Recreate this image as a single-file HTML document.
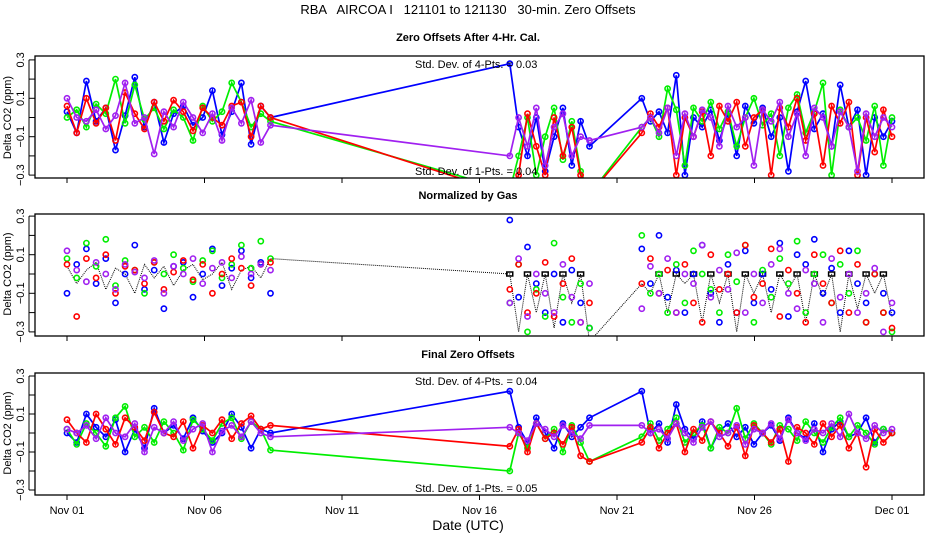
<!DOCTYPE html>
<html><head><meta charset="utf-8"><style>
html,body{margin:0;padding:0;background:#fff;}
svg{display:block;font-family:"Liberation Sans",sans-serif;}
</style></head><body>
<svg id="chart" width="936" height="540" viewBox="0 0 936 540">
<text x="468" y="14" font-size="13" text-anchor="middle" style="white-space:pre" xml:space="preserve">RBA   AIRCOA I   121101 to 121130   30-min. Zero Offsets</text>
<text x="468" y="530" font-size="14" text-anchor="middle">Date (UTC)</text>
</svg>
<script>
// ---- data ----
const segStartDay = [0.0, 16.1, 20.9];
const segEndDay = [7.4, 19.0, 30.0];
const xTickLabels = ["Nov 01","Nov 06","Nov 11","Nov 16","Nov 21","Nov 26","Dec 01"];
const xTickDays = [0,5,10,15,20,25,30];
const yTickValues = [0.3,0.2,0.1,0.0,-0.1,-0.2,-0.3];
const yTickLabels = ["0.3","0.1","-0.1","-0.3"];
const panelTitles = ["Zero Offsets After 4-Hr. Cal.","Normalized by Gas","Final Zero Offsets"];
const seriesNames = ["blue","green","red","purple"];

// Panel 1
const p1Blue = [0.03,-0.08,0.19,-0.02,0.05,-0.17,0.01,0.21,-0.05,0.08,-0.13,0.02,0.06,-0.04,0.0,0.14,-0.09,0.03,0.18,-0.14,0.06,0.0,
 0.28,-0.05,-0.2,0.0,-0.28,-0.1,0.05,-0.25,-0.02,-0.15,
 0.1,-0.02,0.03,-0.08,0.22,-0.3,0.0,-0.05,0.04,-0.12,0.02,-0.2,0.06,-0.03,0.05,-0.1,0.0,-0.28,0.03,0.19,-0.06,0.02,-0.15,0.17,-0.05,0.04,-0.3,0.0,-0.1,-0.02];
const p1Green = [0.0,0.04,-0.05,0.07,0.02,0.2,-0.03,0.17,-0.01,0.05,-0.06,0.04,0.0,-0.12,0.06,-0.02,0.03,0.18,0.08,-0.05,0.02,-0.02,
 -0.38,-0.2,0.0,-0.3,-0.1,0.05,-0.22,-0.02,-0.28,-0.4,
 -0.05,0.0,-0.1,0.15,0.04,-0.25,0.05,-0.02,0.08,-0.06,0.03,-0.15,0.0,0.1,-0.04,0.02,-0.2,0.05,0.12,-0.08,0.03,0.18,-0.3,0.04,-0.05,0.0,-0.12,0.06,-0.25,0.0];
const p1Red = [0.06,-0.08,0.1,-0.03,0.05,-0.12,0.13,0.02,-0.06,0.08,-0.02,0.09,0.03,-0.07,0.05,0.0,-0.04,0.06,0.08,-0.1,0.06,0.0,
 -0.4,-0.3,0.02,-0.15,-0.3,0.0,-0.2,-0.05,-0.3,-0.4,
 -0.08,0.02,-0.05,0.05,-0.3,0.0,-0.1,0.03,-0.2,0.06,-0.02,0.08,-0.15,0.0,0.04,-0.3,0.05,-0.05,0.1,-0.12,0.02,-0.25,0.06,-0.03,0.08,-0.3,0.0,-0.18,0.04,-0.1];
const p1Purple = [0.1,0.0,-0.02,0.04,-0.06,0.01,0.18,-0.03,0.0,-0.19,0.03,-0.05,0.08,0.0,-0.08,0.02,-0.12,0.05,-0.03,0.09,-0.13,-0.04,
 -0.2,0.0,-0.15,0.05,-0.25,-0.05,0.02,-0.2,-0.1,-0.12,
 -0.05,0.0,-0.08,0.05,-0.2,0.02,-0.1,0.04,0.0,-0.15,0.06,-0.05,0.0,-0.25,0.04,-0.02,0.08,-0.1,0.02,-0.2,0.05,0.0,-0.15,0.03,-0.05,-0.28,0.02,-0.1,0.0,-0.05];

// Panel 2
const p2Blue = [-0.1,0.05,0.13,-0.05,0.08,-0.15,0.0,0.15,-0.08,0.02,-0.18,0.04,0.06,-0.12,0.0,0.13,-0.06,0.03,0.12,-0.02,0.06,-0.1,
 0.28,-0.12,0.14,-0.05,-0.2,0.0,-0.25,0.02,-0.15,-0.28,
 0.13,-0.05,0.2,-0.12,0.02,-0.2,0.0,0.15,-0.1,-0.25,0.05,-0.2,0.12,-0.15,0.0,-0.08,0.16,-0.22,0.1,0.05,0.18,-0.1,0.03,-0.2,0.12,-0.05,-0.15,0.0,-0.1,-0.2];
const p2Green = [0.08,-0.02,0.16,0.04,0.18,-0.06,0.07,0.02,-0.1,0.06,0.0,0.1,0.03,-0.04,0.07,0.12,-0.02,0.05,0.15,0.03,0.17,0.08,
 -0.15,0.05,-0.3,-0.08,-0.22,0.16,-0.12,-0.25,-0.05,-0.28,
 0.2,-0.1,0.0,-0.2,0.05,-0.15,0.12,0.0,-0.08,-0.2,0.1,-0.04,0.15,-0.25,0.02,-0.12,0.08,-0.05,0.17,-0.2,0.0,0.1,-0.15,0.05,-0.1,0.12,-0.25,0.0,-0.2,-0.3];
const p2Red = [0.05,-0.22,0.08,-0.02,0.1,-0.1,0.04,0.02,-0.05,0.06,-0.08,0.01,0.07,-0.03,0.05,-0.1,0.0,0.08,0.03,-0.06,0.05,0.06,
 -0.08,0.05,-0.2,-0.1,0.06,-0.22,-0.05,0.08,-0.25,-0.15,
 -0.05,0.08,-0.1,0.02,-0.2,0.05,-0.15,-0.25,0.1,-0.08,0.0,-0.2,0.15,-0.12,-0.05,0.13,-0.22,0.02,-0.1,-0.25,0.1,-0.05,-0.15,0.12,-0.2,0.05,-0.25,0.0,-0.2,-0.28];
const p2Purple = [0.12,0.02,-0.04,0.06,0.0,-0.08,0.05,0.01,-0.02,0.07,-0.1,0.04,0.0,0.08,-0.05,0.03,0.06,-0.02,0.09,0.0,0.05,0.02,
 -0.15,0.08,-0.22,0.0,-0.1,-0.2,0.05,-0.12,-0.25,-0.05,
 -0.18,0.04,-0.1,0.08,-0.2,0.0,-0.05,0.15,-0.12,0.02,-0.08,0.11,-0.2,0.0,-0.15,0.05,0.13,-0.1,-0.18,0.02,-0.05,-0.25,0.08,-0.12,0.0,-0.2,-0.1,0.03,-0.3,-0.15];
const p2Black = [0.04,-0.05,0.02,0.06,-0.08,0.03,0.0,-0.1,0.05,-0.02,0.04,-0.06,0.02,0.05,-0.03,0.0,0.06,-0.08,0.02,0.04,-0.02,0.08,
 0.0,-0.3,0.0,-0.2,0.0,-0.28,0.0,-0.15,0.0,-0.35,
 -0.05,-0.1,0.0,-0.2,0.0,-0.05,0.0,-0.25,0.0,-0.15,0.0,-0.3,0.0,-0.1,0.0,-0.2,0.0,-0.08,0.0,-0.25,0.0,-0.12,0.0,-0.3,0.0,-0.18,0.0,-0.1,0.0,-0.22];

// Panel 3
const p3Blue = [0.0,-0.05,0.1,0.03,-0.02,0.07,-0.1,0.02,-0.08,0.13,0.0,0.04,-0.03,0.08,0.01,-0.05,0.0,0.1,0.03,-0.08,0.02,0.0,
 0.22,0.03,-0.05,0.08,0.0,-0.08,0.05,-0.02,0.03,0.08,
 0.22,0.0,0.05,-0.05,0.15,0.02,-0.03,0.06,-0.08,0.01,0.05,-0.02,0.03,-0.06,0.0,0.04,-0.04,0.08,0.0,-0.03,0.05,-0.1,0.02,0.06,-0.02,0.0,0.08,-0.05,0.02,0.0];
const p3Green = [0.02,-0.06,0.05,0.0,-0.07,0.08,0.14,-0.02,0.03,-0.05,0.06,0.0,-0.09,0.07,0.02,-0.04,0.05,0.08,-0.03,0.06,0.02,-0.09,
 -0.2,0.0,-0.08,0.05,-0.03,0.02,-0.1,0.04,-0.05,-0.15,
 -0.02,0.05,-0.04,0.02,0.08,-0.05,0.0,0.04,-0.08,0.03,0.0,0.13,-0.03,0.05,0.0,-0.06,0.04,0.02,-0.04,0.06,0.0,-0.05,0.03,0.08,-0.02,0.04,0.0,-0.06,0.02,0.0];
const p3Red = [0.07,0.0,-0.05,0.1,0.02,-0.06,0.08,0.03,-0.04,0.11,0.0,-0.02,0.06,-0.08,0.04,0.0,0.07,-0.03,0.05,0.09,0.02,0.04,
 -0.07,0.02,-0.1,0.05,-0.03,0.0,-0.06,0.03,-0.12,-0.15,
 -0.05,0.03,-0.08,0.0,0.05,-0.1,0.02,-0.04,0.06,0.0,-0.07,0.03,-0.12,0.04,0.0,-0.05,0.02,-0.15,0.03,0.0,-0.06,0.05,-0.02,0.04,-0.08,0.0,-0.18,0.02,-0.05,0.0];
const p3Purple = [0.02,0.0,0.04,-0.03,0.08,0.0,-0.02,0.05,-0.1,0.03,0.0,0.06,-0.04,0.02,0.05,-0.1,0.01,0.04,-0.02,0.06,0.0,-0.02,
 0.03,0.0,-0.04,0.05,0.02,-0.02,0.04,0.0,-0.03,0.04,
 0.04,0.0,0.02,-0.03,0.05,0.0,-0.05,0.03,0.06,-0.02,0.0,0.04,-0.06,0.02,0.0,0.05,-0.03,0.07,0.0,-0.04,0.02,0.0,0.05,-0.02,0.1,0.0,-0.03,0.04,0.0,0.02];

const stdTexts = [["Std. Dev. of 4-Pts. =  0.03","Std. Dev. of 1-Pts. =  0.04"], null, ["Std. Dev. of 4-Pts. =  0.04","Std. Dev. of 1-Pts. =  0.05"]];

// ---- layout ----
const NS = "http://www.w3.org/2000/svg";
const svg = document.getElementById("chart");
const colors = ["#0000ff","#00ee00","#ff0000","#a020f0"];
const plotLeft = 35, plotRight = 924;
const panels = [
  {top:56, bottom:178, center:117.5, scale:192},
  {top:214, bottom:336, center:274, scale:193},
  {top:373, bottom:495, center:433, scale:190}
];
const segCounts = [22, 10, 30];
function xOf(d){ return 67 + 27.5*d; }
function dayList(){
  const out=[];
  for(let s=0;s<3;s++){
    const n=segCounts[s];
    for(let i=0;i<n;i++) out.push(segStartDay[s]+(segEndDay[s]-segStartDay[s])*i/(n-1));
  }
  return out;
}
const days = dayList();
function mk(tag, attrs, parent){
  const e=document.createElementNS(NS,tag);
  for(const k in attrs) e.setAttribute(k,attrs[k]);
  (parent||svg).appendChild(e); return e;
}

const panelData = [
  [p1Blue,p1Green,p1Red,p1Purple],
  [p2Blue,p2Green,p2Red,p2Purple],
  [p3Blue,p3Green,p3Red,p3Purple]
];

panels.forEach((p,pi)=>{
  const yOf = v => p.center - v*p.scale;
  const defs = mk("defs",{});
  const cp = mk("clipPath",{id:"clip"+pi},defs);
  mk("rect",{x:plotLeft,y:p.top,width:plotRight-plotLeft,height:p.bottom-p.top},cp);

  const t = mk("text",{x:468,y:p.top-15,"font-size":11,"font-weight":"bold","text-anchor":"middle"});
  
  
  t.textContent = panelTitles[pi];

  const g = mk("g",{"clip-path":"url(#clip"+pi+")"});
  
  

  if(pi===1){
    const pts = p2Black.map((v,i)=>xOf(days[i]).toFixed(1)+","+yOf(v).toFixed(1)).join(" ");
    const bl = mk("polyline",{points:pts,fill:"none",stroke:"#000","stroke-width":1,"stroke-dasharray":"1 1"},g);
    
    
    p2Black.forEach((v,i)=>{
      if(v===0 && i>=22){
        const m = mk("rect",{x:xOf(days[i])-3,y:yOf(v)-2,width:6,height:4,fill:"none",stroke:"#000","stroke-width":1.5},g);
        
        
      }
    });
  }

  panelData[pi].forEach((vals,si)=>{
    const sg = mk("g",{},g);
    
    
    if(pi!==1){
      const pts = vals.map((v,i)=>xOf(days[i]).toFixed(1)+","+yOf(v).toFixed(1)).join(" ");
      mk("polyline",{points:pts,fill:"none",stroke:colors[si],"stroke-width":1.7},sg);
    }
    vals.forEach((v,i)=>{
      const c = mk("circle",{cx:xOf(days[i]).toFixed(1),cy:yOf(v).toFixed(1),r:2.6,fill:"none",stroke:colors[si],"stroke-width":1.6},sg);
      
      
    });
  });

  const box = mk("rect",{x:plotLeft,y:p.top,width:plotRight-plotLeft,height:p.bottom-p.top,fill:"none",stroke:"#000","stroke-width":1.3});
  
  

  yTickValues.forEach(v=>{
    mk("line",{x1:29,x2:plotLeft,y1:yOf(v),y2:yOf(v),stroke:"#000","stroke-width":1});
  });
  mk("line",{x1:29,x2:29,y1:yOf(0.3),y2:yOf(-0.3),stroke:"#000","stroke-width":1});
  yTickLabels.forEach(l=>{
    const v=parseFloat(l), y=yOf(v);
    const tl = mk("text",{x:0,y:0,"font-size":11,"text-anchor":"middle",transform:"translate(24,"+y+") rotate(-90)"});
    
    
    tl.textContent = l.replace("-","\u2212");
  });
  const yl = mk("text",{x:0,y:0,"font-size":11,"text-anchor":"middle",transform:"translate(11,"+p.center+") rotate(-90)"});
  
  
  yl.textContent = "Delta CO2 (ppm)";

  xTickDays.forEach((d,i)=>{
    mk("line",{x1:xOf(d),x2:xOf(d),y1:p.bottom,y2:p.bottom+5,stroke:"#000","stroke-width":1});
    if(pi===2){
      const xl = mk("text",{x:xOf(d),y:p.bottom+19,"font-size":11,"text-anchor":"middle"});
      
      
      xl.textContent = xTickLabels[i];
    }
  });

  if(stdTexts[pi]){
    const s1 = mk("text",{x:415,y:p.top+12,"font-size":11});
    
    
    s1.textContent = stdTexts[pi][0];
    const s2 = mk("text",{x:415,y:p.bottom-3,"font-size":11});
    
    
    s2.textContent = stdTexts[pi][1];
  }
});
</script>
</body></html>
